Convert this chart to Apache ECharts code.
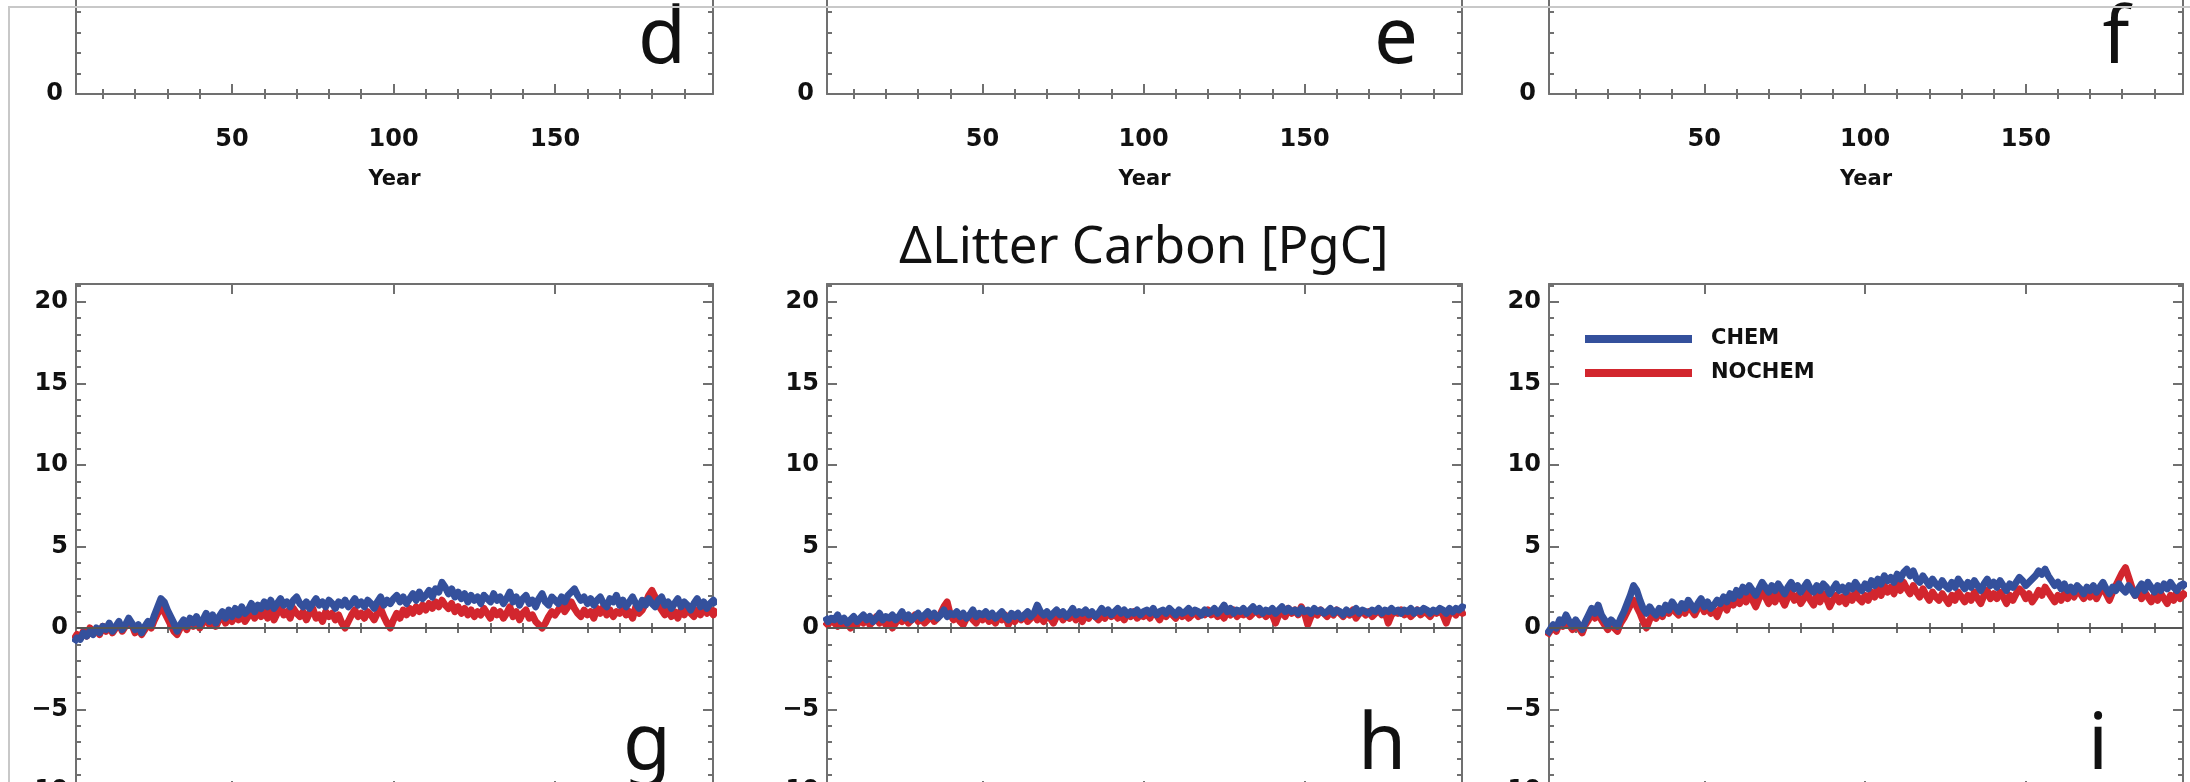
<!DOCTYPE html>
<html>
<head>
<meta charset="utf-8">
<title>Litter Carbon</title>
<script src="https://cdn.jsdelivr.net/npm/echarts@6/dist/echarts.min.js"></script>
<style>
  html, body { margin: 0; padding: 0; background: #fff; }
  #chart { width: 2190px; height: 782px; }
</style>
</head>
<body>
<div id="chart"></div>
<script>
// simulation years 1..200
const years = Array.from({ length: 200 }, (_, i) => i + 1)

const xTicks = [50, 100, 150]
const xMinorTicks = [10, 20, 30, 40, 60, 70, 80, 90, 110, 120, 130, 140, 160, 170, 180, 190]

const seriesNames = ['CHEM', 'NOCHEM']

// panel g
const gChem = [
  -0.9, -0.6, -0.7, -0.3, -0.5, -0.2, -0.4, 0.0, -0.3, 0.1,
  -0.1, 0.3, -0.2, 0.1, 0.4, -0.1, 0.2, 0.6, 0.3, -0.1,
  0.2, -0.3, 0.1, 0.4, 0.2, 0.8, 1.3, 1.8, 1.6, 1.1,
  0.7, 0.3, -0.2, 0.2, 0.5, 0.1, 0.6, 0.3, 0.7, 0.2,
  0.5, 0.9, 0.4, 0.8, 0.3, 0.7, 1.0, 0.6, 1.1, 0.7,
  1.2, 0.8, 1.3, 0.9, 1.1, 1.5, 1.0, 1.4, 1.2, 1.6,
  1.3, 1.7, 1.2, 1.5, 1.8, 1.4, 1.6, 1.3, 1.7, 1.9,
  1.5, 1.3, 1.6, 1.2, 1.5, 1.8, 1.4, 1.6, 1.3, 1.7,
  1.5, 1.2, 1.6, 1.4, 1.7, 1.3, 1.5, 1.8, 1.4, 1.6,
  1.3, 1.7, 1.5, 1.2, 1.6, 1.9, 1.4, 1.7, 1.5, 1.8,
  2.0, 1.6, 1.9, 1.5, 1.8, 2.1, 1.7, 2.2, 1.8, 2.0,
  2.3, 1.9, 2.4, 2.2, 2.8, 2.5, 2.1, 2.4, 1.9, 2.2,
  1.8, 2.1, 1.6, 2.0, 1.7, 1.9, 1.5, 2.0, 1.8, 1.6,
  2.1, 1.7, 1.9, 1.5, 1.8, 2.2, 1.6, 1.9, 1.4, 1.8,
  2.0, 1.5, 1.7, 1.3, 1.8, 2.1, 1.6, 1.4, 1.9, 1.7,
  1.5, 1.9, 1.6, 2.0, 2.2, 2.4, 2.0, 1.7, 1.9, 1.5,
  1.8, 1.4, 1.7, 1.9, 1.5, 1.3, 1.8, 1.6, 2.0, 1.4,
  1.7, 1.3, 1.6, 1.9, 1.5, 1.2, 1.7, 1.4, 1.8, 1.5,
  1.3, 1.7, 1.9, 1.4, 1.6, 1.2, 1.5, 1.8, 1.3, 1.6,
  1.4, 1.1, 1.5, 1.8, 1.3, 1.6, 1.2, 1.5, 1.7, 1.4
]
const gNochem = [
  -0.7, -0.4, -0.6, -0.2, -0.5, 0.0, -0.3, -0.1, -0.4, 0.1,
  -0.2, 0.2, -0.3, 0.0, 0.3, -0.2, 0.1, 0.4, 0.2, -0.3,
  0.0, -0.4, -0.1, 0.3, 0.0, 0.5, 0.9, 1.2, 1.0, 0.6,
  0.2, -0.2, -0.4, 0.0, 0.3, -0.1, 0.4, 0.1, 0.5, 0.0,
  0.3, 0.7, 0.2, 0.6, 0.1, 0.5, 0.8, 0.3, 0.7, 0.4,
  0.8, 0.5, 0.9, 0.4, 0.7, 1.1, 0.6, 1.0, 0.7, 1.2,
  0.6, 1.1, 0.5, 0.9, 1.3, 0.8, 1.0, 0.6, 1.2, 0.9,
  0.7, 1.0, 0.5, 0.9, 1.2, 0.6, 0.8, 0.4, 1.0, 0.7,
  0.9, 0.5, 0.8, 0.3, 0.0, 0.4, 0.8, 1.1, 0.7, 0.9,
  0.6, 1.0, 0.8, 0.5, 0.9, 1.2, 0.7, 0.3, 0.0, 0.5,
  0.9, 0.6, 1.1, 0.8, 1.2, 0.9, 1.3, 1.0, 1.4, 1.1,
  1.5, 1.2, 1.6, 1.3, 1.7, 1.4, 1.2, 1.5, 1.0, 1.3,
  0.9, 1.2, 0.8, 1.1, 0.7, 1.0, 0.8, 1.2, 0.9, 0.6,
  1.1, 0.8, 1.0, 0.6, 0.9, 1.3, 0.7, 1.0, 0.5, 0.9,
  1.1, 0.6, 0.8, 0.4, 0.2, 0.0, 0.3, 0.7, 1.0, 0.8,
  1.1, 1.4, 1.0, 1.3, 1.6, 1.2, 0.9, 0.7, 1.1, 0.8,
  1.0, 0.6, 1.2, 0.9, 1.3, 0.8, 1.1, 0.7, 1.0, 0.9,
  1.2, 0.8, 1.0, 0.6, 1.3, 0.9, 1.1, 1.5, 2.0, 2.3,
  1.9, 1.4, 1.1, 0.8, 1.2, 0.7, 1.0, 0.6, 1.1, 0.8,
  1.2, 0.9, 0.7, 1.1, 0.8, 1.3, 0.9, 1.1, 0.8, 1.2
]

// panel h
const hChem = [
  0.7, 0.4, 0.6, 0.5, 0.8, 0.4, 0.6, 0.3, 0.5, 0.7,
  0.4, 0.6, 0.8, 0.5, 0.7, 0.4, 0.6, 0.9, 0.5, 0.7,
  0.6, 0.8, 0.5, 0.7, 1.0, 0.6, 0.8, 0.5, 0.7, 0.9,
  0.6, 0.8, 1.0, 0.7, 0.9, 0.6, 0.8, 1.1, 0.7, 0.9,
  0.8, 1.0, 0.7, 0.9, 0.6, 0.8, 1.1, 0.7, 0.9, 0.8,
  1.0, 0.7, 0.9, 0.6, 0.8, 1.0, 0.7, 0.5, 0.9, 0.7,
  0.9, 0.6, 0.8, 1.0, 0.7, 0.9, 1.4, 1.0, 0.8, 1.0,
  0.7, 0.9, 1.1, 0.8, 1.0, 0.7, 0.9, 1.2, 0.8, 1.0,
  0.9, 1.1, 0.8, 1.0, 0.7, 0.9, 1.2, 0.9, 1.1, 0.8,
  1.0, 1.2, 0.9, 1.1, 0.8, 1.0, 0.9, 1.1, 0.8, 1.0,
  1.1, 0.9, 1.2, 0.8, 1.0, 1.1, 0.9, 1.2, 1.0, 0.8,
  1.1, 0.9, 1.0, 1.2, 0.9, 1.1, 1.0, 0.8, 1.1, 0.9,
  1.0, 1.2, 0.9, 1.1, 1.4, 1.0, 1.2, 0.9, 1.1, 1.0,
  1.2, 0.9, 1.1, 1.3, 1.0, 1.2, 0.9, 1.1, 1.0, 1.2,
  0.9, 1.1, 1.3, 1.0, 1.2, 1.0, 1.1, 0.9, 1.2, 1.0,
  1.1, 0.9, 1.2, 1.0, 1.1, 0.9, 1.0, 1.2, 0.9, 1.1,
  1.0, 0.8, 1.1, 0.9, 1.0, 1.2, 0.9, 1.1, 1.0, 0.9,
  1.1, 1.0, 1.2, 0.9, 1.1, 1.0, 1.2, 1.0, 1.1, 0.9,
  1.1, 1.0, 1.2, 0.9, 1.1, 1.0, 1.2, 1.1, 0.9, 1.1,
  1.0, 1.2, 1.1, 0.9, 1.2, 1.0, 1.2, 1.1, 1.3, 1.2
]
const hNochem = [
  0.4, 0.2, 0.5, 0.3, 0.1, 0.4, 0.2, 0.3, 0.0, 0.4,
  0.2, 0.5, 0.3, 0.6, 0.2, 0.4, 0.7, 0.3, 0.5, 0.2,
  0.4, 0.0, 0.3, 0.6, 0.4, 0.7, 0.3, 0.5, 0.8, 0.4,
  0.6, 0.3, 0.5, 0.8, 0.4, 0.6, 0.9, 1.3, 1.6, 0.8,
  0.5, 0.7, 0.4, 0.2, 0.6, 0.8, 0.5, 0.3, 0.7, 0.5,
  0.8, 0.4, 0.6, 0.3, 0.7, 0.5, 0.8, 0.2, 0.6, 0.4,
  0.7, 0.5, 0.8, 0.4, 0.6, 0.9, 0.5, 0.7, 0.4, 0.8,
  0.6, 0.3, 0.7, 0.9, 0.5, 0.8, 0.6, 0.9, 0.5, 0.7,
  0.4, 0.8, 0.6, 0.9, 0.7, 0.5, 0.8, 0.6, 1.0, 0.7,
  0.9, 0.6, 0.8, 0.5, 0.9, 0.7, 1.0, 0.6, 0.8, 0.7,
  0.9, 0.6, 1.0, 0.8, 0.5, 0.9, 0.7, 1.0, 0.8, 0.6,
  1.0, 0.7, 0.9, 0.6, 0.8, 1.0, 0.7, 0.9, 0.8, 1.1,
  0.8, 1.0, 0.7, 0.9, 0.6, 1.0, 0.8, 1.1, 0.7, 0.9,
  0.8, 1.0, 0.7, 0.9, 1.1, 0.8, 1.0, 0.7, 0.9, 0.8,
  0.3, 0.8, 1.0, 0.7, 1.2, 0.9, 1.1, 0.8, 1.3, 0.9,
  0.2, 0.7, 1.0, 0.8, 1.1, 0.9, 0.7, 1.0, 0.8, 1.1,
  0.9, 0.7, 1.0, 0.8, 1.1, 0.6, 0.9, 1.0, 0.8, 1.0,
  0.7, 0.9, 1.1, 0.8, 1.0, 0.3, 0.8, 1.0, 0.9, 1.1,
  0.8, 1.0, 0.7, 0.9, 1.1, 0.8, 1.0, 0.9, 0.7, 1.0,
  0.9, 1.1, 0.8, 0.3, 0.9, 1.0, 0.8, 1.1, 0.9, 1.0
]

// panel i
const iChem = [
  -0.4, -0.1, 0.2, 0.0, 0.5, 0.3, 0.8, 0.4, 0.1, 0.5,
  0.2, -0.1, 0.4, 0.8, 1.2, 0.9, 1.4, 0.8, 0.5, 0.2,
  0.5, 0.3, 0.1, 0.6, 1.0, 1.5, 2.0, 2.6, 2.3, 1.7,
  1.2, 0.9, 1.3, 1.0, 0.8, 1.2, 0.9, 1.4, 1.1, 1.6,
  1.3, 1.0, 1.5, 1.2, 1.7, 1.4, 1.1, 1.5, 1.8, 1.3,
  1.6, 1.2, 1.4, 1.7, 1.5, 1.9, 1.6, 2.1, 1.8, 2.3,
  2.0, 2.5, 2.2, 2.6, 2.3, 2.0, 2.4, 2.8, 2.5, 2.2,
  2.6, 2.3, 2.7, 2.4, 2.1, 2.5, 2.8, 2.4, 2.6, 2.2,
  2.5, 2.8, 2.4, 2.2, 2.6, 2.3, 2.7, 2.5, 2.1, 2.4,
  2.7, 2.3, 2.5, 2.2, 2.6, 2.4, 2.8, 2.5, 2.3, 2.7,
  2.4, 2.9, 2.6, 3.0, 2.7, 3.2, 2.9, 3.1, 2.8, 3.3,
  3.0, 3.4, 3.6, 3.2, 3.5, 3.0, 2.8, 3.2, 2.9, 2.6,
  3.0, 2.7, 2.5, 2.9, 2.6, 2.4, 2.8, 2.5, 3.0, 2.7,
  2.4, 2.8, 2.5, 2.9, 2.6, 2.3, 2.7, 3.0, 2.6, 2.8,
  2.5, 2.9, 2.6, 2.3, 2.7, 2.5, 2.8, 3.1, 2.9, 2.6,
  2.8, 3.0, 3.2, 3.5, 3.3, 3.6, 3.2, 2.9, 2.6, 2.8,
  2.4, 2.7, 2.3, 2.5, 2.2, 2.6, 2.4, 2.1, 2.5, 2.3,
  2.6, 2.2, 2.5, 2.8, 2.4, 2.1, 2.5, 2.3, 2.7, 2.4,
  2.2, 2.6, 2.3, 2.0, 2.4, 2.7, 2.3, 2.8, 2.5, 2.2,
  2.6, 2.3, 2.7, 2.4, 2.8, 2.5, 2.3, 2.6, 2.7, 2.5
]
const iNochem = [
  -0.5, -0.2, 0.1, -0.2, 0.3, 0.1, 0.5, 0.2, -0.1, 0.3,
  0.0, -0.3, 0.2, 0.5, 0.9, 0.6, 1.0, 0.5, 0.2, -0.1,
  0.3, 0.0, -0.2, 0.3, 0.6, 1.0, 1.4, 1.7, 1.3, 0.9,
  0.4, 0.0, 0.5, 0.8, 0.6, 1.0, 0.7, 1.2, 0.9, 1.3,
  1.0, 0.8, 1.2, 0.9, 1.4, 1.1, 0.8, 1.2, 1.5, 1.0,
  1.3, 0.9, 1.1, 0.7, 1.2, 1.5, 1.1, 1.7, 1.4, 1.8,
  1.5, 2.0, 1.6, 2.1, 1.7, 1.3, 1.8, 2.2, 1.9, 1.5,
  2.0, 1.6, 2.1, 1.8, 1.4, 1.9, 2.2, 1.7, 2.0, 1.5,
  1.8, 2.2, 1.7, 1.4, 2.0, 1.6, 2.1, 1.8, 1.3, 1.7,
  2.0, 1.6, 1.9, 1.5, 2.0, 1.7, 2.2, 1.8, 1.6, 2.0,
  1.7, 2.2, 1.9, 2.4, 2.0, 2.6, 2.2, 2.5, 2.1, 2.7,
  2.3, 2.8, 2.4, 2.1, 2.6, 2.2, 1.9, 2.4, 2.0, 1.7,
  2.2, 1.9, 1.7, 2.1, 1.8, 1.5, 2.0, 1.7, 2.2, 1.9,
  1.6, 2.0, 1.7, 2.2, 1.8, 1.5, 2.0, 2.3, 1.8, 2.1,
  1.8, 2.2, 1.9, 1.5, 2.0, 1.7, 2.1, 2.4, 2.2, 1.8,
  2.1, 1.6, 1.9, 2.3, 2.0, 2.5, 2.2, 1.9, 1.6, 2.0,
  1.7, 2.1, 1.8, 2.3, 1.9, 2.4, 2.1, 1.8, 2.2, 1.9,
  2.3, 1.8, 2.2, 2.5, 2.1, 1.7, 2.2, 2.6, 3.0, 3.4,
  3.7, 3.1, 2.5, 2.0, 2.3, 1.8, 2.2, 1.9, 1.6, 2.0,
  1.7, 2.1, 1.8, 1.5, 2.0, 1.7, 2.2, 1.8, 2.1, 1.9
]

const panels = [
  { chem: gChem, nochem: gNochem },
  { chem: hChem, nochem: hNochem },
  { chem: iChem, nochem: iNochem },
]

const AXIS = '#707070'
const BLUE = '#34509c'
const RED = '#d2262e'
const LABEL_FONT = 'DejaVu Sans'

const cols = [
  { left: 76, width: 637 },
  { left: 827, width: 635 },
  { left: 1549, width: 634 },
]

const chart = echarts.init(document.getElementById('chart'))

const grids = []
const xAxes = []
const yAxes = []
const series = []

function addXAxes(gridIndex, position, withLabels) {
  const base = {
    type: 'value',
    gridIndex,
    position,
    min: 1.7,
    max: 198.9,
    axisLine: { show: true, onZero: false, lineStyle: { color: AXIS, width: 2 } },
    splitLine: { show: false },
  }
  xAxes.push({
    ...base,
    axisTick: { show: true, inside: true, length: 10, customValues: xTicks, lineStyle: { color: AXIS, width: 2 } },
    axisLabel: withLabels
      ? { show: true, customValues: xTicks, margin: 34, color: '#111', fontFamily: LABEL_FONT, fontWeight: 'bold', fontSize: 24 }
      : { show: false },
    name: withLabels ? 'Year' : '',
    nameLocation: 'middle',
    nameGap: 75,
    nameTextStyle: { color: '#111', fontFamily: LABEL_FONT, fontWeight: 'bold', fontSize: 21 },
  })
  xAxes.push({
    ...base,
    axisLine: { show: false },
    axisTick: { show: true, inside: true, length: 5, customValues: xMinorTicks, lineStyle: { color: AXIS, width: 2 } },
    axisLabel: { show: false },
  })
}

function addYAxes(gridIndex, min, max, interval, labelMargin, labelPadding) {
  const base = {
    type: 'value',
    gridIndex,
    min,
    max,
    interval,
    axisLine: { show: true, onZero: false, lineStyle: { color: AXIS, width: 2 } },
    axisTick: { show: true, inside: true, length: 10, lineStyle: { color: AXIS, width: 2 } },
    minorTick: { show: true, splitNumber: 5, length: 5, lineStyle: { color: AXIS, width: 2 } },
    splitLine: { show: false },
    minorSplitLine: { show: false },
  }
  yAxes.push({
    ...base,
    position: 'left',
    axisLabel: {
      show: true, margin: labelMargin, padding: labelPadding,
      color: '#111', fontFamily: LABEL_FONT, fontWeight: 'bold', fontSize: 24,
      formatter: (v) => (v < 0 ? '\u2212' + Math.abs(v) : String(v)),
    },
  })
  yAxes.push({ ...base, position: 'right', axisLabel: { show: false } })
}

// top row (d, e, f): only the bottom strip is visible
cols.forEach((c) => {
  const gi = grids.length
  grids.push({ left: c.left, width: c.width, top: -418.5, height: 512.5, outerBoundsMode: 'none', containLabel: false })
  addXAxes(gi, 'bottom', true)
  addXAxes(gi, 'top', false)
  addYAxes(gi, 0, 50, 10, 13, [0, 0, 14, 0])
})

// bottom row (g, h, i)
cols.forEach((c, k) => {
  const gi = grids.length
  grids.push({ left: c.left, width: c.width, top: 284, height: 507, outerBoundsMode: 'none', containLabel: false })
  const xi = xAxes.length
  addXAxes(gi, 'bottom', false)
  addXAxes(gi, 'top', false)
  const yi = yAxes.length
  addYAxes(gi, -10, 21.1, 5, 8, 0)

  const p = panels[k]
  series.push({
    type: 'line',
    xAxisIndex: xi,
    yAxisIndex: yi,
    data: [],
    silent: true,
    z: 1,
    markLine: {
      symbol: 'none',
      silent: true,
      animation: false,
      label: { show: false },
      lineStyle: { color: '#555', width: 2, type: 'solid' },
      data: [{ yAxis: 0 }],
    },
  })
  series.push({
    name: 'NOCHEM',
    type: 'line',
    xAxisIndex: xi,
    yAxisIndex: yi,
    data: years.map((y, j) => [y, p.nochem[j]]),
    showSymbol: false,
    symbol: 'none',
    color: RED,
    lineStyle: { color: RED, width: 7, join: 'round' },
    z: 2,
    animation: false,
  })
  series.push({
    name: 'CHEM',
    type: 'line',
    xAxisIndex: xi,
    yAxisIndex: yi,
    data: years.map((y, j) => [y, p.chem[j]]),
    showSymbol: false,
    symbol: 'none',
    color: BLUE,
    lineStyle: { color: BLUE, width: 7, join: 'round' },
    z: 3,
    animation: false,
  })
})

// panel letters, y is the top of the text box (baseline sits ~64px lower)
const letterFont = '78px "Noto Sans"'
const letters = [
  { t: 'd', x: 662, y: 2 },
  { t: 'e', x: 1396, y: 2 },
  { t: 'f', x: 2116, y: 2 },
  { t: 'g', x: 647, y: 708 },
  { t: 'h', x: 1382, y: 708 },
  { t: 'i', x: 2098, y: 708 },
]

chart.setOption({
  backgroundColor: '#fff',
  animation: false,
  grid: grids,
  xAxis: xAxes,
  yAxis: yAxes,
  series,
  legend: {
    data: seriesNames,
    orient: 'vertical',
    left: 1580,
    top: 322,
    icon: 'rect',
    itemWidth: 107,
    itemHeight: 8,
    itemGap: 10,
    selectedMode: false,
    textStyle: { color: '#111', fontFamily: LABEL_FONT, fontWeight: 'bold', fontSize: 21, lineHeight: 24, padding: [0, 0, 0, 14] },
  },
  graphic: [
    {
      type: 'text',
      x: 1144,
      y: 248,
      style: { text: '\u0394Litter Carbon [PgC]', font: '51px "Noto Sans"', fill: '#111', textAlign: 'center', textVerticalAlign: 'middle' },
    },
    ...letters.map((l) => ({
      type: 'text',
      x: l.x,
      y: l.y,
      style: { text: l.t, font: letterFont, fill: '#111', textAlign: 'center', textVerticalAlign: 'top' },
    })),
    {
      type: 'polyline',
      silent: true,
      z: 100,
      shape: { points: [[9, 782], [9, 7], [2190, 7]] },
      style: { stroke: '#c8c8c8', lineWidth: 2, fill: null },
    },
  ],
})
</script>
</body>
</html>
